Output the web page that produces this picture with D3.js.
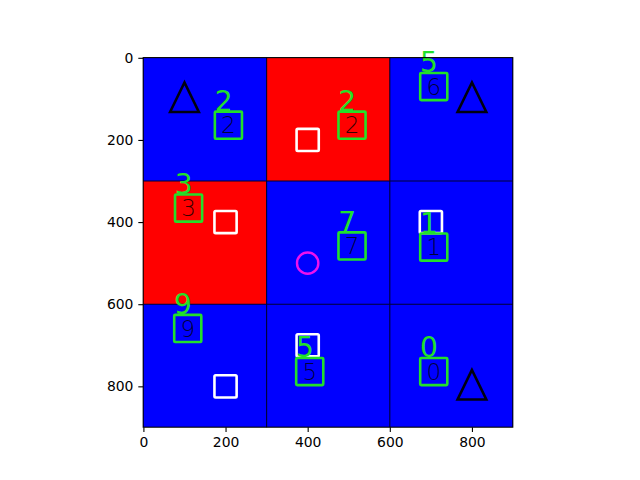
<!DOCTYPE html>
<html><head><meta charset="utf-8">
<script src="https://cdn.jsdelivr.net/npm/d3@7"></script>
<style>body{margin:0;background:#fff}svg{display:block}</style>
</head><body>
<svg id="c" width="640" height="480"></svg>
<script>
// ---- data ----
const cellRows = [0, 1, 2];
const cellCols = [0, 1, 2];
const cellClass = [[0, 1, 0], [1, 0, 0], [0, 0, 0]]; // 0 = blue, 1 = red
const gridLines = [300, 600];
const triX = [100, 800, 800];
const triY = [100, 100, 800];
const sqX = [400, 200, 700, 200, 400];
const sqY = [200, 400, 400, 800, 700];
const circX = [400];
const circY = [500];
const boxX = [207, 508, 707, 110, 508, 707, 108, 405, 707];
const boxY = [164, 164, 70, 366, 458, 461, 659, 764, 764];
const innerDigit = ["2", "2", "6", "3", "7", "1", "9", "5", "0"];
const labelDigit = ["2", "2", "5", "3", "7", "1", "9", "5", "0"];
const tickVals = [0, 200, 400, 600, 800];

const svg = d3.select("#c");
const x = d3.scaleLinear().domain([-0.5, 899.5]).range([143.2, 512.8]);
const y = d3.scaleLinear().domain([-0.5, 899.5]).range([57.6, 427.2]);
const k = x(1) - x(0);
const cellColor = ["#0000ff", "#ff0000"];

const g = svg.append("g");
// image cells
cellRows.forEach(r => cellCols.forEach(c => {
  g.append("rect").attr("x", x(c * 300 - 0.5)).attr("y", y(r * 300 - 0.5))
    .attr("width", x(300) - x(0)).attr("height", y(300) - y(0))
    .attr("fill", cellColor[cellClass[r][c]]).attr("shape-rendering", "crispEdges");
}));
// grid lines
gridLines.forEach(v => {
  g.append("line").attr("x1", x(v)).attr("x2", x(v)).attr("y1", y(-0.5)).attr("y2", y(899.5))
    .attr("stroke", "#000033").attr("stroke-width", 1.1);
  g.append("line").attr("y1", y(v)).attr("y2", y(v)).attr("x1", x(-0.5)).attr("x2", x(899.5))
    .attr("stroke", "#000033").attr("stroke-width", 1.1);
});
// triangles
triX.forEach((tx, i) => {
  const cx = tx, cy = triY[i];
  const pts = [[cx, cy - 40], [cx - 35, cy + 32], [cx + 35, cy + 32]].map(p => [x(p[0]), y(p[1])]);
  g.append("path").attr("d", d3.line()(pts) + "Z").attr("fill", "none")
    .attr("stroke", "#000010").attr("stroke-width", 2.6).attr("stroke-linejoin", "miter");
});
// white squares
sqX.forEach((sx, i) => {
  g.append("rect").attr("x", x(sx - 27)).attr("y", y(sqY[i] - 27))
    .attr("width", 54 * k).attr("height", 54 * k).attr("rx", 1.2)
    .attr("fill", "none").attr("stroke", "#ffffff").attr("stroke-width", 2.6);
});
// circle
circX.forEach((cx, i) => {
  g.append("circle").attr("cx", x(cx)).attr("cy", y(circY[i])).attr("r", 26 * k)
    .attr("fill", "none").attr("stroke", "#ee11ee").attr("stroke-width", 2.4);
});
// green boxes with digits
boxX.forEach((bx, i) => {
  const by = boxY[i];
  g.append("rect").attr("x", x(bx - 33)).attr("y", y(by - 33))
    .attr("width", 66 * k).attr("height", 66 * k).attr("rx", 1)
    .attr("fill", "none").attr("stroke", "#22e02a").attr("stroke-width", 2.6);
  g.append("text").attr("x", x(bx)).attr("y", y(by) + 8.3)
    .attr("text-anchor", "middle").attr("font-family", "DejaVu Sans").attr("font-weight", 200)
    .attr("font-size", 23).attr("fill", "#000000").attr("fill-opacity", 0.8).text(innerDigit[i]);
  g.append("text").attr("x", x(bx - 36) + 1).attr("y", y(by - 36) + 0.5)
    .attr("font-family", "DejaVu Sans").attr("font-size", 28).attr("font-weight", 400)
    .attr("fill", "#22e02a").text(labelDigit[i]);
});

// axes
const fmt = d3.format("d");
const ax = svg.append("g").attr("transform", `translate(0,${y(899.5)})`)
  .call(d3.axisBottom(x).tickValues(tickVals).tickFormat(fmt).tickSize(4.9).tickPadding(4.9));
const ay = svg.append("g").attr("transform", `translate(${x(-0.5)},0)`)
  .call(d3.axisLeft(y).tickValues(tickVals).tickFormat(fmt).tickSize(4.9).tickPadding(4.9));
[ax, ay].forEach(a => {
  a.select(".domain").remove();
  a.selectAll("line").attr("stroke", "#000").attr("stroke-width", 1.1);
  a.selectAll("text").attr("font-family", "DejaVu Sans").attr("font-size", 13.9).attr("fill", "#000");
});
// spines
svg.append("rect").attr("x", x(-0.5)).attr("y", y(-0.5))
  .attr("width", x(899.5) - x(-0.5)).attr("height", y(899.5) - y(-0.5))
  .attr("fill", "none").attr("stroke", "#000").attr("stroke-width", 1.1);
</script>
</body></html>
